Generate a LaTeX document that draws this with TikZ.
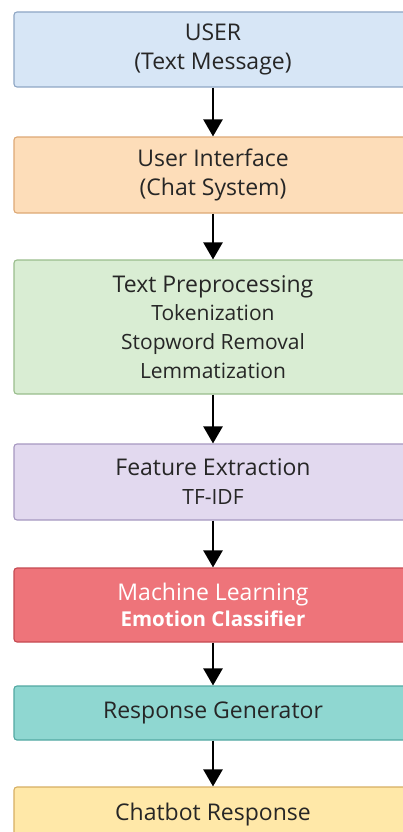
\documentclass[tikz,border=0pt]{standalone}
\usepackage{fontspec}
\setmainfont{Open Sans}
\usetikzlibrary{arrows.meta}

\definecolor{userfill}{HTML}{D7E6F6}
\definecolor{userline}{HTML}{8EA6C4}
\definecolor{uifill}{HTML}{FDDDB9}
\definecolor{uiline}{HTML}{DDA874}
\definecolor{prepfill}{HTML}{D9EDD3}
\definecolor{prepline}{HTML}{99BD8C}
\definecolor{featfill}{HTML}{E2D9EF}
\definecolor{featline}{HTML}{A697C0}
\definecolor{mlfill}{HTML}{EE747A}
\definecolor{mlline}{HTML}{C54A52}
\definecolor{respfill}{HTML}{8FD7D1}
\definecolor{respline}{HTML}{52A8A2}
\definecolor{botfill}{HTML}{FFE8A8}
\definecolor{botline}{HTML}{D6AE62}

\newcommand{\subline}[1]{{\fontsize{21}{28}\selectfont #1}}

\begin{document}
\begin{tikzpicture}[
    x=1pt, y=1pt,
    stage/.style  = {rectangle, rounded corners=3pt, line width=1.1pt,
                     minimum width=398pt, align=center, inner sep=0pt,
                     text=black!85, font=\fontsize{23}{29}\selectfont},
    flow/.style   = {-{Triangle[length=17pt,width=19pt]}, line width=2.4pt,
                     draw=black},
  ]

  \useasboundingbox (0,0) rectangle (403,-832);
  \clip (0,0) rectangle (403,-832);

  \node[stage, fill=userfill, draw=userline, minimum height=75pt]
    (user) at (213,-49.5) {USER\\(Text Message)};
  \node[stage, fill=uifill, draw=uiline, minimum height=76pt]
    (ui) at (213,-175) {User Interface\\(Chat System)};
  \node[stage, fill=prepfill, draw=prepline, minimum height=134pt]
    (prep) at (213,-327) {Text Preprocessing\\[-1pt]
      \subline{Tokenization}\\
      \subline{Stopword Removal}\\
      \subline{Lemmatization}};
  \node[stage, fill=featfill, draw=featline, minimum height=76pt]
    (feat) at (213,-482) {Feature Extraction\\
      \subline{TF-IDF}};
  \node[stage, fill=mlfill, draw=mlline, minimum height=74pt, text=white]
    (ml) at (213,-605) {Machine Learning\\[-3pt]
      {\fontsize{20.5}{28}\selectfont\bfseries Emotion Classifier}};
  \node[stage, fill=respfill, draw=respline, minimum height=54pt]
    (resp) at (213,-713) {Response Generator};
  \node[stage, fill=botfill, draw=botline, minimum height=56pt]
    (bot) at (213,-815) {Chatbot Response};

  \draw[flow] (user) -- (ui);
  \draw[flow] (ui) -- (prep);
  \draw[flow] (prep) -- (feat);
  \draw[flow] (feat) -- (ml);
  \draw[flow] (ml) -- (resp);
  \draw[flow] (resp) -- (bot);

\end{tikzpicture}
\end{document}
